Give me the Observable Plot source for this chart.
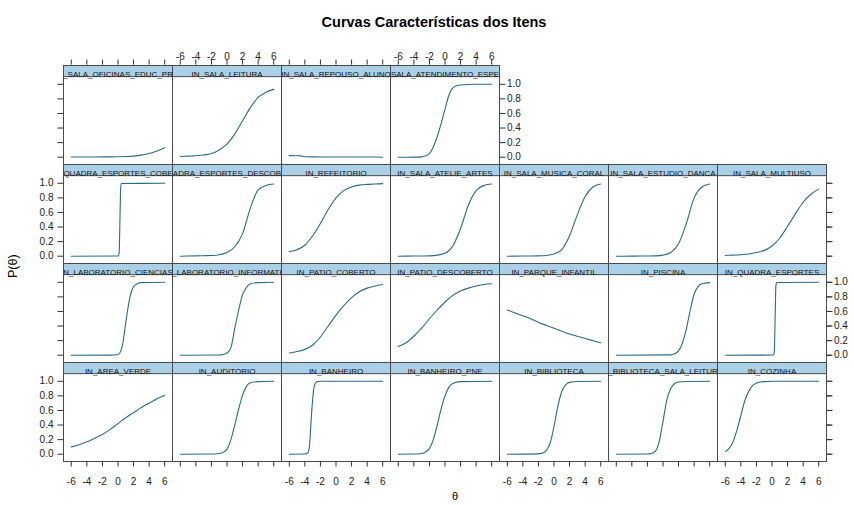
<!DOCTYPE html>
<html>
<head>
<meta charset="utf-8">
<script src="https://cdn.jsdelivr.net/npm/d3@7"></script>
<script src="https://cdn.jsdelivr.net/npm/@observablehq/plot@0.6"></script>
<style>
  body { margin: 0; background: #fff; }
  #wrap { position: relative; width: 854px; height: 505px; font-family: "Liberation Sans", Arial, sans-serif; color: #000; }
  #chart { position: absolute; left: 0; top: 0; }
  .lbl { position: absolute; white-space: nowrap; line-height: 1; }
</style>
</head>
<body>
<div id="wrap">
  <div id="chart"></div>
  <div class="lbl" id="title" style="left:0;width:868px;text-align:center;top:15.2px;font-size:14.5px;font-weight:bold;">Curvas Características dos Itens</div>
  <div class="lbl" id="xlab" style="left:0;width:910px;text-align:center;top:491px;font-size:11px;">θ</div>
  <div class="lbl" id="ylab" style="left:-37px;width:100px;text-align:center;top:260px;font-size:12.5px;transform:rotate(-90deg);">P(θ)</div>
</div>
<script>
// ---- data (lattice panel order: bottom row first, left to right) ----
const itemNames = [
  "IN_AREA_VERDE", "IN_AUDITORIO", "IN_BANHEIRO", "IN_BANHEIRO_PNE", "IN_BIBLIOTECA", "IN_BIBLIOTECA_SALA_LEITURA", "IN_COZINHA",
  "IN_LABORATORIO_CIENCIAS", "IN_LABORATORIO_INFORMATICA", "IN_PATIO_COBERTO", "IN_PATIO_DESCOBERTO", "IN_PARQUE_INFANTIL", "IN_PISCINA", "IN_QUADRA_ESPORTES",
  "IN_QUADRA_ESPORTES_COBERTA", "IN_QUADRA_ESPORTES_DESCOBERTA", "IN_REFEITORIO", "IN_SALA_ATELIE_ARTES", "IN_SALA_MUSICA_CORAL", "IN_SALA_ESTUDIO_DANCA", "IN_SALA_MULTIUSO",
  "IN_SALA_OFICINAS_EDUC_PROF", "IN_SALA_LEITURA", "IN_SALA_REPOUSO_ALUNO", "IN_SALA_ATENDIMENTO_ESPECIAL"
];
const thetaSteps = [-6, -5, -4, -3, -2, -1, 0, 1, 2, 3, 4, 5, 6];
const itemTheta = [
  thetaSteps,
  [-6, -2, -1, -0.5, 0, 0.5, 1, 1.5, 2, 2.5, 3, 4, 6],
  [-6, -4, -3.6, -3.4, -3.2, -3, -2.8, -2.6, -2.4, -2, 6],
  [-6, -4, -3, -2.5, -2, -1.5, -1, -0.5, 0, 0.5, 1, 2, 6],
  [-6, -2, -1.5, -1, -0.5, 0, 0.5, 1, 1.5, 2, 3, 6],
  [-6, -2, -1.5, -1, -0.5, 0, 0.5, 1, 1.5, 2, 3, 6],
  [-6, -5.5, -5, -4.5, -4, -3.5, -3, -2.5, -2, -1.5, -1, 0, 6],
  [-6, -1, 0, 0.5, 1, 1.5, 2, 2.5, 3, 6],
  [-6, -1, -0.5, 0, 0.5, 1, 1.5, 2, 2.5, 3, 4, 6],
  thetaSteps,
  thetaSteps,
  thetaSteps,
  [-6, 1, 1.5, 2, 2.5, 3, 3.5, 4, 4.5, 5, 6],
  [-6, 0.2, 0.3, 0.4, 0.5, 0.6, 6],
  [-6, 0.05, 0.15, 0.25, 0.35, 0.45, 6],
  thetaSteps,
  thetaSteps,
  thetaSteps,
  thetaSteps,
  thetaSteps,
  thetaSteps,
  thetaSteps,
  thetaSteps,
  [-6, -5, -4.5, -4, -3, 0, 5, 6],
  [-6, -4, -3, -2.5, -2, -1.5, -1, -0.5, 0, 0.5, 1, 1.5, 2, 4, 6]
];
const itemProb = [
  [0.10, 0.13, 0.17, 0.22, 0.27, 0.34, 0.42, 0.50, 0.57, 0.64, 0.70, 0.76, 0.81],
  [0, 0.002, 0.01, 0.025, 0.07, 0.2, 0.4, 0.62, 0.81, 0.93, 0.98, 0.995, 1],
  [0, 0.002, 0.02, 0.12, 0.45, 0.75, 0.93, 0.98, 0.995, 1, 1],
  [0, 0.002, 0.01, 0.03, 0.08, 0.2, 0.4, 0.62, 0.8, 0.92, 0.97, 0.995, 1],
  [0, 0.005, 0.015, 0.05, 0.15, 0.38, 0.66, 0.86, 0.95, 0.985, 0.998, 1],
  [0, 0.003, 0.01, 0.04, 0.17, 0.45, 0.75, 0.9, 0.97, 0.99, 0.998, 1],
  [0.035, 0.08, 0.17, 0.33, 0.53, 0.73, 0.86, 0.94, 0.975, 0.99, 0.996, 1, 1],
  [0, 0.001, 0.01, 0.1, 0.45, 0.78, 0.94, 0.98, 0.995, 1],
  [0, 0.003, 0.01, 0.03, 0.1, 0.37, 0.62, 0.83, 0.93, 0.98, 0.995, 1],
  [0.03, 0.05, 0.08, 0.14, 0.25, 0.40, 0.55, 0.68, 0.79, 0.87, 0.92, 0.95, 0.97],
  [0.12, 0.17, 0.26, 0.37, 0.50, 0.62, 0.73, 0.82, 0.88, 0.92, 0.95, 0.97, 0.98],
  [0.62, 0.58, 0.54, 0.50, 0.45, 0.41, 0.37, 0.33, 0.29, 0.26, 0.23, 0.20, 0.17],
  [0, 0.005, 0.02, 0.06, 0.17, 0.36, 0.62, 0.84, 0.94, 0.98, 0.995],
  [0, 0.002, 0.05, 0.5, 0.95, 0.998, 1],
  [0, 0.002, 0.05, 0.5, 0.95, 0.998, 1],
  [0, 0.002, 0.005, 0.007, 0.01, 0.02, 0.05, 0.13, 0.31, 0.66, 0.91, 0.97, 0.99],
  [0.06, 0.09, 0.15, 0.28, 0.45, 0.64, 0.80, 0.90, 0.95, 0.975, 0.985, 0.99, 0.995],
  [0, 0.001, 0.002, 0.003, 0.005, 0.015, 0.04, 0.14, 0.38, 0.70, 0.90, 0.97, 0.99],
  [0, 0.001, 0.002, 0.003, 0.005, 0.01, 0.03, 0.09, 0.28, 0.57, 0.82, 0.95, 0.99],
  [0, 0, 0.001, 0.002, 0.003, 0.005, 0.015, 0.05, 0.17, 0.45, 0.80, 0.95, 0.99],
  [0.01, 0.015, 0.02, 0.03, 0.05, 0.08, 0.14, 0.25, 0.41, 0.58, 0.74, 0.85, 0.92],
  [0.003, 0.003, 0.003, 0.003, 0.004, 0.005, 0.006, 0.009, 0.015, 0.028, 0.05, 0.085, 0.13],
  [0.01, 0.015, 0.02, 0.03, 0.05, 0.10, 0.18, 0.32, 0.50, 0.68, 0.82, 0.89, 0.93],
  [0.022, 0.021, 0.018, 0.006, 0.004, 0.003, 0.002, 0],
  [0, 0.001, 0.005, 0.02, 0.05, 0.14, 0.28, 0.46, 0.66, 0.85, 0.95, 0.98, 0.99, 1, 1]
];
const xTicks = [-6, -4, -2, 0, 2, 4, 6];
const xTickLabels = ["-6", "-4", "-2", "0", "2", "4", "6"];
const yTicks = [0, 0.2, 0.4, 0.6, 0.8, 1.0];
const yTickLabels = ["0.0", "0.2", "0.4", "0.6", "0.8", "1.0"];
const xLabelBottomCols = [0, 2, 4, 6];
const xLabelTopCols = [1, 3];
const xTopTickCols = [0, 1, 2, 3];
const yLabelLeftRows = [1, 3];
const yLabelRight = [{row: 0, col: 3}, {row: 2, col: 6}];
const yRightTickRows = [1, 2, 3];

// ---- layout ----
const NCOL = 7, NROW = 4;
const W = 854, H = 505;
const mL = 60.5, mR = 26, mT = 64.3, mB = 43.3;
const stripH = 11.5;
const bandH = (H - mT - mB) / NROW;
const bandW = (W - mL - mR) / NCOL;
const tickLen = 5.5;
const stripFont = 8;
const stripFill = "#a9d0e6";
const border = "#4a4a4a";
const lineColor = "#2a6c88";
const axisColor = "#333";

// lattice clips strip text (centred) to the strip width: keep the visible characters
const ctx = document.createElement("canvas").getContext("2d");
ctx.font = `${stripFont}px 'Liberation Sans', Arial, sans-serif`;
function visibleLabel(name) {
  const w = ctx.measureText(name).width;
  const avail = bandW - 1;
  if (w <= avail) return name;
  const lo = (w - avail) / 2, hi = (w + avail) / 2;
  let out = "", x = 0;
  for (const ch of name) {
    const cw = ctx.measureText(ch).width;
    const c = x + cw / 2;
    if (c >= lo && c <= hi) out += ch;
    x += cw;
  }
  return out;
}

const panels = itemNames.map((name, i) => ({name, label: visibleLabel(name), col: i % NCOL, row: NROW - 1 - Math.floor(i / NCOL)}));
const points = itemNames.flatMap((name, i) =>
  itemTheta[i].map((t, j) => ({name, col: panels[i].col, row: panels[i].row, theta: t, p: itemProb[i][j]})));

const xBottomLabels = xLabelBottomCols.flatMap(col => xTicks.map((v, k) => ({col, row: NROW - 1, v, label: xTickLabels[k]})));
const xTopLabels = xLabelTopCols.flatMap(col => xTicks.map((v, k) => ({col, row: 0, v, label: xTickLabels[k]})));
const xTopTicks = xTopTickCols.flatMap(col => xTicks.map(v => ({col, row: 0, v})));
const yLeftLabels = yLabelLeftRows.flatMap(row => yTicks.map((v, k) => ({col: 0, row, v, label: yTickLabels[k]})));
const yRightLabels = yLabelRight.flatMap(({row, col}) => yTicks.map((v, k) => ({col, row, v, label: yTickLabels[k]})));
const yRightTicks = yRightTickRows.flatMap(row => yTicks.map(v => ({col: NCOL - 1, row, v})));

const axisOpts = {tickSize: tickLen, tickFormat: () => "", label: null, stroke: axisColor};

const chart = Plot.plot({
  width: W,
  height: H,
  marginLeft: mL,
  marginRight: mR,
  marginTop: mT,
  marginBottom: mB,
  style: {fontFamily: "'Liberation Sans', Arial, sans-serif", fontSize: "10px", overflow: "visible", background: "transparent"},
  fx: {domain: d3.range(NCOL), padding: 0, axis: null},
  fy: {domain: d3.range(NROW), padding: 0, axis: null},
  x: {domain: [-7, 7], axis: null},
  y: {domain: [-0.1, 1.1], insetTop: stripH, axis: null},
  marks: [
    Plot.frame({stroke: border, strokeWidth: 1}),
    Plot.frame({fill: stripFill, stroke: border, strokeWidth: 1, insetBottom: bandH - stripH}),
    Plot.line(points, {x: "theta", y: "p", fx: "col", fy: "row", z: "name", stroke: lineColor, strokeWidth: 1.1, curve: "monotone-x"}),
    Plot.text(panels, {fx: "col", fy: "row", text: "label", frameAnchor: "top", dy: stripH / 2 + 0.5, fontSize: stripFont, fill: "#111", title: "name"}),
    Plot.axisX({anchor: "bottom", facetAnchor: "bottom", ticks: xTicks, ...axisOpts}),
    Plot.tickX(xTopTicks, {x: "v", fx: "col", fy: "row", stroke: axisColor, insetTop: -tickLen, insetBottom: bandH}),
    Plot.axisY({anchor: "left", facetAnchor: "left", ticks: yTicks, ...axisOpts}),
    Plot.axisY({anchor: "right", facetAnchor: "right-empty", ticks: yTicks, ...axisOpts}),
    Plot.tickY(yRightTicks, {y: "v", fx: "col", fy: "row", stroke: axisColor, insetLeft: bandW, insetRight: -tickLen}),
    Plot.text(xBottomLabels, {x: "v", fx: "col", fy: "row", text: "label", frameAnchor: "bottom", dy: 23, fontSize: 10, fill: "#222"}),
    Plot.text(xTopLabels, {x: "v", fx: "col", fy: "row", text: "label", frameAnchor: "top", dy: -13, fontSize: 10, fill: "#222"}),
    Plot.text(yLeftLabels, {y: "v", fx: "col", fy: "row", text: "label", frameAnchor: "left", textAnchor: "end", dx: -10, fontSize: 10, fill: "#222"}),
    Plot.text(yRightLabels, {y: "v", fx: "col", fy: "row", text: "label", frameAnchor: "right", textAnchor: "start", dx: 7.5, fontSize: 10, fill: "#222"})
  ]
});
document.getElementById("chart").appendChild(chart);
</script>
</body>
</html>
